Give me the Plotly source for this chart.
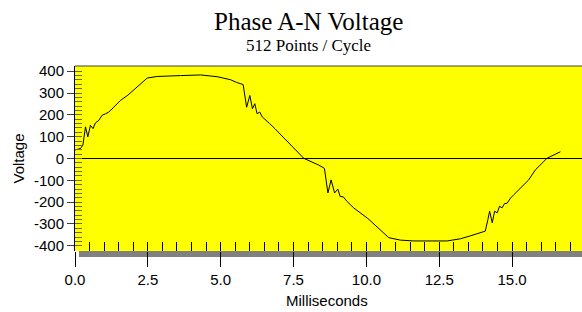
import plotly.graph_objects as go

# Waveform (time in ms, voltage in V)
time_ms = [0.00, 0.19, 0.27, 0.36, 0.44, 0.53, 0.62, 0.70, 0.82, 0.93, 1.05, 1.16,
           1.56, 1.82, 2.48, 2.82, 3.62, 4.31, 4.88, 5.34, 5.54, 5.77, 5.89, 6.00,
           6.09, 6.17, 6.25, 6.34, 6.43, 6.57, 6.68, 6.86, 7.26, 7.85, 8.36, 8.56,
           8.68, 8.79, 8.91, 9.02, 9.10, 9.21, 9.33, 9.44, 9.56, 10.05, 10.48, 10.77,
           11.16, 11.63, 12.77, 13.23, 13.56, 13.90, 14.08, 14.17, 14.23, 14.32, 14.40,
           14.49, 14.57, 14.66, 14.74, 14.83, 14.95, 15.06, 15.17, 15.40, 15.57, 15.80,
           16.20, 16.66]
voltage = [39, 46, 61, 145, 99, 152, 137, 163, 175, 198, 205, 213,
           266, 291, 369, 376, 380, 383, 375, 361, 349, 339, 235, 289,
           228, 251, 205, 213, 190, 175, 160, 137, 84, 1, -30, -45,
           -158, -98, -158, -140, -174, -176, -196, -211, -226, -275, -325, -363,
           -374, -378, -378, -368, -355, -340, -333, -280, -242, -295, -242,
           -249, -219, -226, -207, -205, -181, -166, -151, -120, -98, -52,
           1, 31]

y_tick_vals = [-400, -300, -200, -100, 0, 100, 200, 300, 400]
y_tick_text = ["-400", "-300", "-200", "-100", "0", "100", "200", "300", "400"]
x_tick_vals = [0.0, 2.5, 5.0, 7.5, 10.0, 12.5, 15.0]
x_tick_text = ["0.0", "2.5", "5.0", "7.5", "10.0", "12.5", "15.0"]

title_text = "Phase A-N Voltage"
subtitle_text = "512 Points / Cycle"
x_title = "Milliseconds"
y_title = "Voltage"

X_RANGE = [0, 17.4]
Y_RANGE = [-424, 424]

fig = go.Figure()
fig.add_trace(go.Scatter(x=time_ms, y=voltage, mode="lines",
                         line=dict(color="black", width=1), showlegend=False,
                         hoverinfo="skip"))
# empty helper traces so that overlay tick axes are drawn
fig.add_trace(go.Scatter(x=[], y=[], xaxis="x2", yaxis="y", showlegend=False))
fig.add_trace(go.Scatter(x=[], y=[], xaxis="x", yaxis="y2", showlegend=False))

sans = "Liberation Sans, Arial, sans-serif"
serif = "Liberation Serif, Times New Roman, serif"

PW, PH = 507, 185  # plot area size in px
L, T = 75, 66

fig.update_layout(
    width=582, height=312,
    margin=dict(l=L, r=0, t=T, b=61, autoexpand=False),
    paper_bgcolor="white",
    plot_bgcolor="#ffff00",
    font=dict(family=sans, size=15, color="black"),
    xaxis=dict(range=X_RANGE, showgrid=False, zeroline=False, showline=False,
               automargin=False,
               tickvals=x_tick_vals, ticktext=x_tick_text,
               ticks="outside", ticklen=15, tickwidth=1, tickcolor="black",
               tickfont=dict(family=sans, size=15, color="black")),
    xaxis2=dict(range=X_RANGE, overlaying="x", anchor="y", side="bottom",
                automargin=False,
                showgrid=False, zeroline=False, showline=False,
                showticklabels=False, ticks="inside", dtick=0.5, tick0=0,
                ticklen=9, tickwidth=1, tickcolor="black"),
    yaxis=dict(range=Y_RANGE, showgrid=False, zeroline=True, zerolinecolor="black",
               zerolinewidth=1, showline=True, linecolor="black", linewidth=1,
               automargin=False,
               tickvals=y_tick_vals, ticktext=y_tick_text,
               ticks="outside", ticklen=7, tickwidth=1, tickcolor="#404040",
               tickfont=dict(family=sans, size=15, color="black")),
    yaxis2=dict(range=Y_RANGE, overlaying="y", anchor="x", side="left",
                automargin=False,
                showgrid=False, zeroline=False, showline=False,
                showticklabels=False, ticks="inside", dtick=20, tick0=0,
                ticklen=7, tickwidth=1, tickcolor="#6e6e00"),
    shapes=[
        dict(type="rect", xref="paper", yref="paper", x0=4/PW, x1=1.0,
             y0=-6/PH, y1=0, fillcolor="#808080", line=dict(width=0), layer="below"),
        dict(type="line", xref="paper", yref="paper", x0=0, x1=1, y0=1, y1=1,
             line=dict(color="#404040", width=1)),
    ],
    annotations=[
        dict(text=title_text, xref="paper", yref="paper", x=(308-L)/PW,
             y=1 + (T-21.5)/PH, xanchor="center", yanchor="middle", showarrow=False,
             font=dict(family=serif, size=25, color="black")),
        dict(text=subtitle_text, xref="paper", yref="paper", x=(308-L)/PW,
             y=1 + (T-45)/PH, xanchor="center", yanchor="middle", showarrow=False,
             font=dict(family=serif, size=17, color="black")),
        dict(text=x_title, xref="paper", yref="paper", x=(327-L)/PW,
             y=-(300-(T+PH))/PH, xanchor="center", yanchor="middle", showarrow=False,
             font=dict(family=sans, size=15, color="black")),
        dict(text=y_title, xref="paper", yref="paper", x=(18-L)/PW,
             y=0.5, xanchor="center", yanchor="middle", showarrow=False,
             textangle=-90, font=dict(family=sans, size=15, color="black")),
    ],
)

fig.write_html("out.html", config={"displayModeBar": False, "staticPlot": True},
               post_script="document.body.style.margin='0';document.body.style.overflow='hidden';")
